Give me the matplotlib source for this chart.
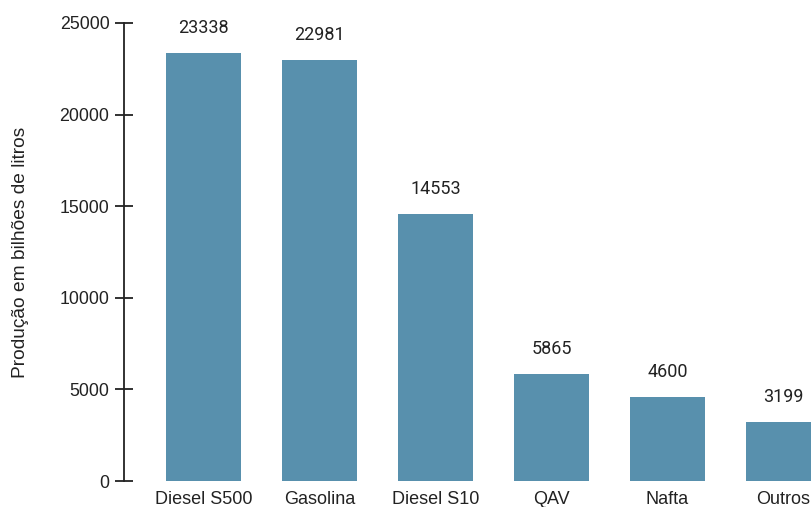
import matplotlib
matplotlib.use("Agg")
import matplotlib.pyplot as plt

categories = ["Diesel S500", "Gasolina", "Diesel S10", "QAV", "Nafta", "Outros"]
values = [23338, 22981, 14553, 5865, 4600, 3199]
yticks = [0, 5000, 10000, 15000, 20000, 25000]
ylabel = "Produção em bilhões de litros"

plt.rcParams['font.family'] = ['Liberation Sans', 'DejaVu Sans']

W, H = 811, 507
fig = plt.figure(figsize=(W / 100, H / 100), dpi=100)
ax = fig.add_axes([124 / W, 26 / H, 1 - 124 / W, 458 / H])

x = list(range(len(categories)))
bars = ax.bar(x, values, width=0.647, color="#5890ad", zorder=2)

for xi, v in zip(x, values):
    ax.annotate(str(v), (xi, v), xytext=(0, 20), textcoords="offset pixels",
                ha="center", va="baseline", fontsize=13, color="#222222",
                family=["Roboto", "DejaVu Sans"])

ax.set_xlim(-0.685, 5.237)
ax.set_ylim(0, 25000)
ax.set_yticks(yticks)
ax.set_yticklabels([str(t) for t in yticks])
ax.set_xticks(x)
ax.set_xticklabels(categories)

for s in ["top", "right", "bottom"]:
    ax.spines[s].set_visible(False)
ax.spines["left"].set_color("#222222")
ax.spines["left"].set_linewidth(1.3)

ax.tick_params(axis="y", direction="inout", length=13, width=1.3, color="#222222",
               labelsize=12.8, labelcolor="#222222", pad=4)
ax.tick_params(axis="x", length=0, labelsize=13, labelcolor="#222222", pad=7)

ax.set_ylabel(ylabel, fontsize=13.8, color="#222222", labelpad=22)

fig.savefig("out.png", dpi=100)
